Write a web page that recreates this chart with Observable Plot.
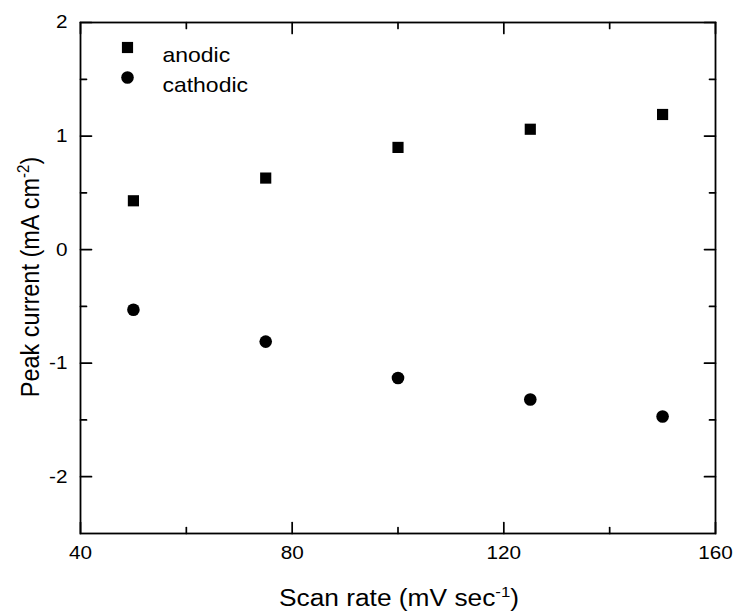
<!DOCTYPE html>
<html><head><meta charset="utf-8">
<script src="https://cdn.jsdelivr.net/npm/d3@7"></script>
<script src="https://cdn.jsdelivr.net/npm/@observablehq/plot@0.6"></script>
<style>body{margin:0;background:#fff;} #chart{width:738px;height:613px;}</style>
</head><body><div id="chart"></div>
<script>
const scanRates = [50, 75, 100, 125, 150];
const anodic = [0.43, 0.63, 0.90, 1.06, 1.19];
const cathodic = [-0.53, -0.81, -1.13, -1.32, -1.47];
const xMajorTicks = [40, 80, 120, 160];
const xMinorTicks = [60, 100, 140];
const yMajorTicks = [-2, -1, 0, 1, 2];
const yMinorTicks = [-1.5, -0.5, 0.5, 1.5];
const seriesNames = ["anodic", "cathodic"];
const xTitle = ["Scan rate (mV sec", "-1", ")"];
const yTitle = ["Peak current (mA cm", "-2", ")"];

const anodicData = scanRates.map((x, i) => ({x, y: anodic[i]}));
const cathodicData = scanRates.map((x, i) => ({x, y: cathodic[i]}));

const tickShape = {draw(context, l) { context.moveTo(0, 0); context.lineTo(0, -l); }};
const MAJ = 11, MIN = 6;
function ticks(values, axis, anchor, rotate, len) {
  const o = {frameAnchor: anchor, rotate, length: len, anchor: "start", shape: tickShape, stroke: "black", strokeWidth: 1.7};
  if (axis === "x") o.x = d => d; else o.y = d => d;
  return Plot.vector(values, o);
}

const font = "'Liberation Sans', Arial, sans-serif";
const plot = Plot.plot({
  width: 738, height: 613,
  marginLeft: 80, marginRight: 23, marginTop: 22, marginBottom: 80,
  style: {fontFamily: font, fontSize: "18px", color: "black", background: "white"},
  x: {domain: [40, 160]},
  y: {domain: [-2.5, 2]},
  marks: [
    Plot.frame({stroke: "black", strokeWidth: 1.8}),
    ticks(xMajorTicks, "x", "bottom", 0, MAJ),
    ticks(xMinorTicks, "x", "bottom", 0, MIN),
    ticks(xMajorTicks, "x", "top", 180, MAJ),
    ticks(xMinorTicks, "x", "top", 180, MIN),
    ticks(yMajorTicks, "y", "left", 90, MAJ),
    ticks(yMinorTicks, "y", "left", 90, MIN),
    ticks(yMajorTicks, "y", "right", -90, MAJ),
    ticks(yMinorTicks, "y", "right", -90, MIN),
    Plot.axisX({ticks: xMajorTicks, tickSize: 0, tickPadding: 12, tickFormat: d => String(d), label: null, fontSize: 18.5}),
    Plot.axisY({ticks: yMajorTicks, tickSize: 0, tickPadding: 13, tickFormat: d => String(d), label: null, fontSize: 18.5}),
    Plot.dot(anodicData, {x: "x", y: "y", symbol: "square", r: 6.3, fill: "black"}),
    Plot.dot(cathodicData, {x: "x", y: "y", symbol: "circle", r: 6.3, fill: "black"}),
    Plot.dot([seriesNames[0]], {frameAnchor: "top-left", dx: 47, dy: 25, symbol: "square", r: 6.3, fill: "black"}),
    Plot.dot([seriesNames[1]], {frameAnchor: "top-left", dx: 47, dy: 55, symbol: "circle", r: 6.3, fill: "black"}),
    Plot.text([seriesNames[0]], {text: d => d, frameAnchor: "top-left", dx: 82, dy: 25, textAnchor: "start", fontSize: 20.5, fill: "black"}),
    Plot.text([seriesNames[1]], {text: d => d, frameAnchor: "top-left", dx: 82, dy: 55, textAnchor: "start", fontSize: 20.5, fill: "black"})
  ]
});
document.getElementById("chart").appendChild(plot);

const svg = d3.select(plot);
// the reference's lettering is slightly wide: stretch each label horizontally about its anchor
svg.selectAll("text").each(function() {
  const t = this.getAttribute("transform");
  if (t) this.setAttribute("transform", t + " scale(1.12,1)");
});
function title(parts, transform) {
  const t = svg.append("text").attr("transform", transform).attr("text-anchor", "middle")
    .attr("font-family", font).attr("font-size", 23.5).attr("fill", "black");
  t.append("tspan").text(parts[0]);
  t.append("tspan").attr("dy", -9).attr("font-size", 15).text(parts[1]);
  t.append("tspan").attr("dy", 9).text(parts[2]);
}
title(xTitle, "translate(399,606) scale(1.12,1)");
title(yTitle, "translate(39,277) rotate(-90) scale(1,1.12)");
</script>
</body></html>
